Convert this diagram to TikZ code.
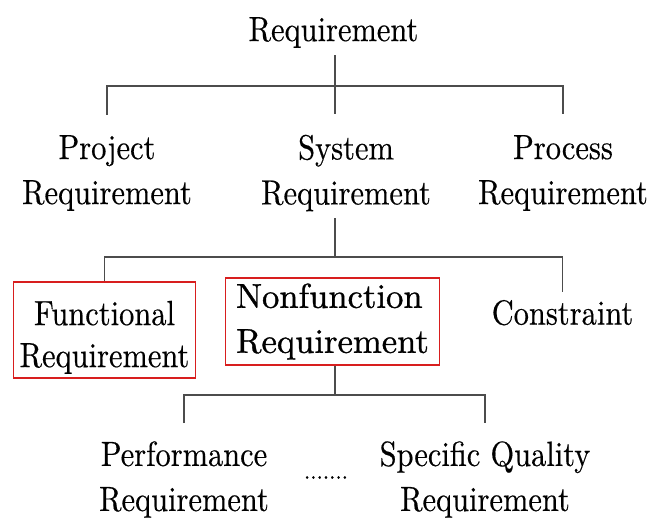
\documentclass[tikz,border=0pt]{standalone}
\usepackage{fontspec}
\usepackage{tikz}
\newfontfamily\reqfont{lmroman10-regular.otf}[FakeStretch=0.87, FakeBold=0.4]
\newfontfamily\cmfont{lmroman10-regular.otf}[FakeBold=0.9]
\definecolor{treegray}{HTML}{4C4C4C}
\definecolor{boxred}{HTML}{D81E1E}
\newcommand{\treew}{1.9pt}
\newcommand{\boxw}{1.5pt}

\begin{document}
\begin{tikzpicture}[x=1pt,y=-1pt]
            \tikzset{
                ReqStyle/.style = {align=center, inner sep=0pt, font=\reqfont\fontsize{35}{45}\selectfont},
                RedBox/.style = {draw=boxred, line width=\boxw},
                Branch/.style = {draw=treegray, line width=\treew}
            }
            \useasboundingbox (0,0) rectangle (654,518);
            %\draw[help lines] (0,0) grid (654,518);

            \node[ReqStyle] (req) at (333.5,32.5) {Requirement};

            \node[ReqStyle] (proj) at (107,173) {Project\\Requirement};
            \node[ReqStyle] (sys) at (346,173) {System\\Requirement};
            \node[ReqStyle] (proc) at (563,173) {Process\\Requirement};

            \node[ReqStyle, RedBox, font=\reqfont\fontsize{35}{42}\selectfont,
                inner xsep=6.25pt, inner ysep=4pt] (func) at (104.5,330) {\rule{0pt}{39pt}Functional\\Requirement};
            \node[RedBox, align=left, font=\cmfont\fontsize{34.6}{45}\selectfont,
                inner xsep=10.5pt, inner ysep=5.5pt] (nonf) at (332.5,321.5) {Nonfunction\\Requirement};
            \node[ReqStyle] (cons) at (562.5,312.7) {Constraint};

            \node[ReqStyle] (perf) at (184,479.5) {Performance\\Requirement};
            \node[ReqStyle, font=\reqfont\fontsize{26}{30}\selectfont] (dots) at (326,477.5) {.......};
            \node[ReqStyle] (spec) at (485,479.5) {Specific Quality\\Requirement};

            \coordinate (j1) at (335,86);
            \coordinate (j2) at (335,257);
            \coordinate (j3) at (335,395);

            \draw[Branch, shorten <=7pt, shorten >=21pt] (j1 |- req.south) -- (j1 |- sys.north);
            \draw[Branch, shorten <=20pt, shorten >=21pt] (proj.north) |- (j1) -| (proc.north);

            \draw[Branch, shorten <=7pt] (j2 |- sys.south) -- (j2);
            \draw[Branch, shorten >=8pt] (func.north) |- (j2) -| (cons.north);

            \draw[Branch] (j3 |- nonf.south) -- (j3);
            \draw[Branch, shorten <=18pt, shorten >=18pt] (perf.north) |- (j3) -| (spec.north);
\end{tikzpicture}
\end{document}
